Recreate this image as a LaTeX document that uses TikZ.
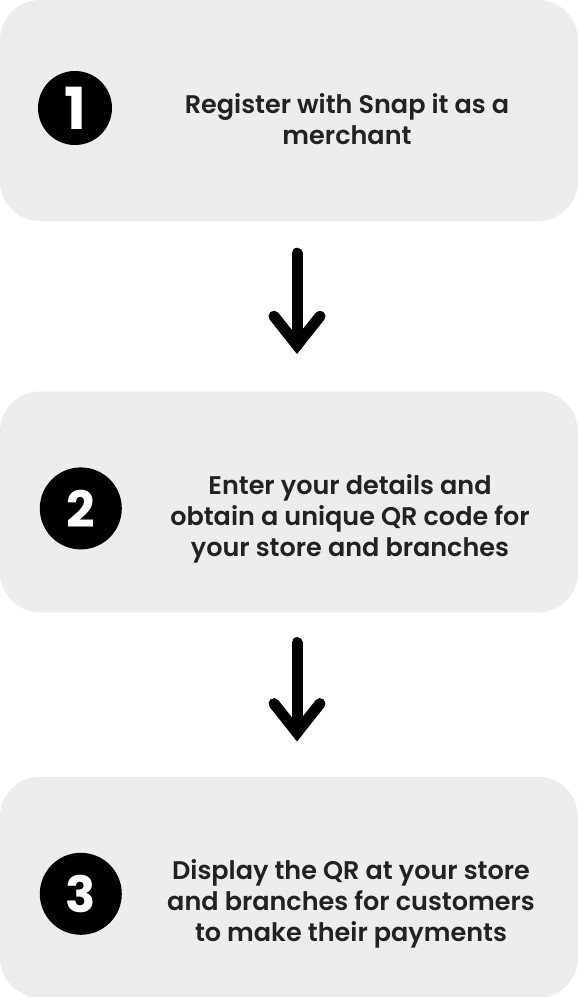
\documentclass[tikz,border=0pt]{standalone}
\usepackage{fontspec}
\setmainfont{Poppins}[UprightFont=* SemiBold, BoldFont=* Bold]
\usetikzlibrary{calc}
\usetikzlibrary{positioning}
\definecolor{stepgray}{HTML}{EDEDED}
\definecolor{inktext}{HTML}{222222}
\tikzset{
	stepbox/.style={fill=stepgray, rounded corners=40pt, minimum width=578pt, minimum height=221pt, inner sep=0pt},
	numdisc/.style={circle, fill=black, text=white, inner sep=0pt, font=\bfseries\fontsize{50}{50}\selectfont},
	steptext/.style={align=center, text=inktext, font=\fontsize{25.5}{31}\selectfont},
	brush/.style={line width=11pt, line cap=round, line join=miter, black}
}

\begin{document}
\begin{tikzpicture}[x=1pt, y=-1pt]
		\useasboundingbox (0,0) rectangle (578,997);
		\node[stepbox] (box1) at (289,110.5) {};
		\node[stepbox, below=170pt of box1] (box2) {};
		\node[stepbox, below=164pt of box2] (box3) {};
		\node[numdisc, minimum size=74pt, font=\bfseries\fontsize{58}{58}\selectfont] (num1) at (75,108) {1};
		\node[numdisc, minimum size=82pt] (num2) at ($(box2.west)+(81,6.5)$) {2};
		\node[numdisc, minimum size=82pt] (num3) at ($(box3.west)+(81,6.5)$) {3};
		\node[steptext] (txt1) at ($(box1.center)+(58,9)$) {Register with Snap it as a\\merchant};
		\node[steptext] (txt2) at ($(box2.center)+(61,17)$) {Enter your details and\\obtain a unique QR code for\\your store and branches};
		\node[steptext] (txt3) at ($(box3.center)+(62,17)$) {Display the QR at your store\\and branches for customers\\to make their payments};
		% arrows between the steps
		\coordinate (top1) at ($(box1.south)+(8,32)$);
		\coordinate (tip1) at ($(box1.south)+(8,124)$);
		\coordinate (top2) at ($(box2.south)+(8,30)$);
		\coordinate (tip2) at ($(box2.south)+(8,120)$);
		\draw[brush] (top1) -- (tip1);
		\draw[brush] ($(tip1)+(-23,-29)$) -- (tip1) -- ($(tip1)+(23,-29)$);
		\draw[brush] (top2) -- (tip2);
		\draw[brush] ($(tip2)+(-23,-29)$) -- (tip2) -- ($(tip2)+(23,-29)$);
	\end{tikzpicture}
\end{document}
